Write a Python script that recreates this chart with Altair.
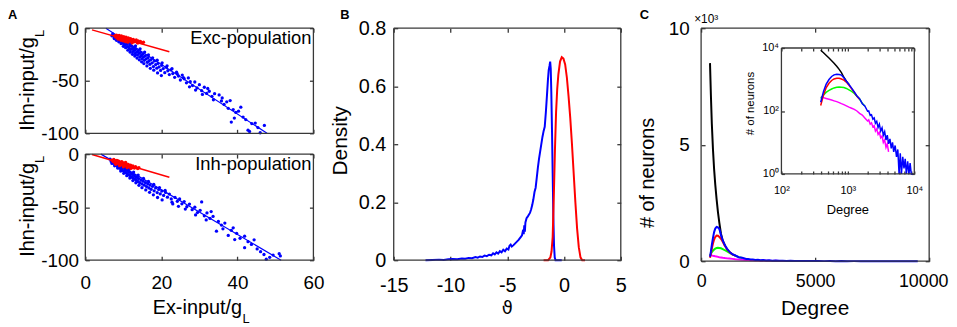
import altair as alt
import pandas as pd

FONT = "Liberation Sans"
BLUE = "#0000ff"; RED = "#ff0000"; GREEN = "#00ff00"; MAGENTA = "#ff00ff"; BLACK = "#000000"
FRAME = "#383838"  # frame / tick colour
T = 4  # inward tick length
LW = 1.3  # frame / tick stroke width

# ---------------- Panel A data ----------------
a_ticks_x = [0, 20, 40, 60]
a_ticks_y = [-100, -50, 0]
a_dom_x = [0, 60]
a_dom_y = [-100, 0]

exc_blue = [
    (7.2, -5.5), (7.5, -7.8), (7.8, -6.9), (8.0, -9.2), (8.3, -8.1), (8.5, -10.4), (8.7, -7.6), (8.9, -11.8), (9.1, -9.5), (9.3, -12.6),
    (9.5, -10.8), (9.7, -13.9), (9.9, -11.6), (10.1, -14.8), (10.3, -12.2), (10.5, -16.1), (10.7, -13.5), (10.9, -15.2), (11.1, -17.6), (11.3, -14.3),
    (11.5, -18.9), (11.7, -16.4), (11.9, -20.2), (12.1, -17.1), (12.3, -19.5), (12.5, -22.3), (12.7, -18.6), (12.9, -21.0), (13.1, -24.1), (13.3, -19.8),
    (13.5, -22.7), (13.7, -25.6), (13.9, -21.4), (14.1, -24.0), (14.3, -27.2), (14.5, -23.1), (14.7, -26.0), (14.9, -28.9), (15.1, -24.8), (15.3, -27.5),
    (15.5, -30.6), (15.8, -26.3), (16.0, -29.2), (16.3, -32.4), (16.5, -28.1), (16.8, -31.0), (17.0, -34.3), (17.3, -29.9), (17.6, -33.0), (17.9, -36.5),
    (18.2, -31.2), (18.5, -34.6), (18.8, -38.1), (19.1, -33.5), (19.4, -36.9), (19.8, -40.2), (20.1, -35.3), (20.5, -38.4), (20.9, -42.3), (21.3, -37.2),
    (21.7, -40.5), (22.1, -44.1), (22.5, -39.6), (23.0, -43.2), (23.5, -46.8), (24.0, -41.9), (24.5, -45.5), (25.0, -49.3), (25.5, -44.6), (26.0, -48.1),
    (26.6, -52.0), (27.1, -47.3), (27.6, -50.9), (28.2, -54.6), (28.8, -51.2), (29.4, -56.8), (30.0, -53.7), (30.6, -59.5), (31.3, -56.2), (31.9, -62.1),
    (32.6, -60.0), (33.3, -64.8), (34.0, -62.3), (35.2, -63.5), (35.8, -69.2), (36.5, -72.5), (37.2, -70.1), (38.1, -68.9), (38.4, -89.3), (38.9, -77.4),
    (39.6, -80.2), (40.3, -79.0), (40.9, -75.2), (41.5, -84.6), (42.2, -86.9), (42.8, -97.0), (43.2, -98.3), (43.8, -90.8), (44.7, -90.3), (45.4, -94.6),
    (46.0, -99.5), (47.1, -92.5),
    (7.0, -7.2), (7.6, -9.9), (8.2, -11.5), (8.8, -13.0), (9.4, -14.6), (10.0, -17.3), (10.6, -18.5), (11.2, -20.9), (11.8, -22.8), (12.4, -24.9),
    (13.0, -26.5), (13.6, -28.4), (14.2, -30.1), (14.8, -32.0), (15.4, -33.7), (16.2, -35.9), (17.1, -38.2), (18.0, -40.0), (19.0, -42.6), (20.0, -45.1),
    (10.4, -9.6), (11.0, -11.8), (12.0, -13.9), (13.2, -16.8), (14.4, -19.6), (15.6, -22.7), (16.6, -25.3), (17.7, -28.2), (18.9, -30.4), (20.2, -33.0),
    (21.5, -35.8), (22.8, -38.5), (24.2, -43.7), (25.8, -47.0), (27.4, -55.8), (29.0, -58.9), (30.8, -63.0), (32.2, -57.4), (33.7, -68.1), (36.0, -66.4),
    (37.6, -76.2), (39.2, -85.5),
]
exc_red = [
    (7.8, -7.2), (8.0, -8.4), (8.2, -6.6), (8.4, -9.1), (8.5, -7.7), (8.7, -8.8), (8.9, -6.9), (9.0, -10.1), (9.2, -8.1), (9.3, -9.4),
    (9.5, -7.4), (9.6, -10.6), (9.8, -8.7), (9.9, -9.9), (10.1, -8.0), (10.2, -11.2), (10.4, -9.3), (10.5, -10.5), (10.7, -8.6), (10.8, -11.6),
    (11.0, -9.8), (11.1, -10.9), (11.3, -9.2), (11.4, -12.0), (11.6, -10.3), (11.7, -11.4), (11.9, -9.9), (12.0, -12.5), (12.2, -10.9), (12.4, -11.9),
    (12.6, -10.6), (12.8, -13.0), (13.0, -11.5), (13.2, -12.4), (13.4, -11.2), (13.6, -13.4), (13.9, -12.1), (14.2, -13.0), (14.5, -12.6), (14.9, -13.8),
    (15.3, -13.4), (9.4, -11.5), (10.0, -12.1), (10.6, -12.8), (11.2, -13.3), (8.6, -10.4), (12.3, -14.0), (9.1, -7.9), (10.3, -9.0), (11.5, -11.1),
    (12.7, -12.2), (13.8, -14.1),
]
exc_blue_fit = [(5.4, 0.0), (47.8, -100.0)]
exc_red_fit = [(1.75, -1.6), (22.1, -22.4)]

inh_blue = [
    (6.5, -4.8), (6.8, -6.9), (7.1, -5.9), (7.3, -8.2), (7.6, -7.1), (7.8, -9.6), (8.0, -8.3), (8.2, -10.8), (8.4, -9.0), (8.6, -12.1),
    (8.8, -10.2), (9.0, -13.3), (9.2, -11.1), (9.4, -14.0), (9.6, -12.4), (9.8, -15.3), (10.0, -13.0), (10.2, -16.2), (10.4, -14.1), (10.6, -17.4),
    (10.8, -15.0), (11.0, -18.3), (11.2, -16.1), (11.4, -19.5), (11.6, -17.0), (11.8, -20.4), (12.0, -18.2), (12.2, -21.6), (12.4, -19.0), (12.6, -22.7),
    (12.8, -20.1), (13.0, -23.5), (13.2, -21.2), (13.4, -24.6), (13.6, -22.0), (13.8, -25.8), (14.0, -23.1), (14.3, -26.9), (14.6, -24.4), (14.9, -28.1),
    (15.2, -25.5), (15.5, -29.3), (15.8, -26.8), (16.1, -30.6), (16.4, -28.0), (16.7, -31.9), (17.0, -29.2), (17.3, -33.1), (17.7, -30.4), (18.1, -34.6),
    (18.5, -31.9), (18.9, -36.2), (19.3, -33.3), (19.7, -37.5), (20.1, -34.8), (20.6, -38.9), (21.1, -36.1), (21.6, -40.6), (22.1, -37.7), (22.6, -42.2),
    (23.0, -47.0), (23.6, -40.8), (24.2, -44.5), (24.8, -42.3), (25.4, -46.9), (26.0, -44.7), (26.7, -49.6), (27.4, -47.1), (28.1, -52.4), (28.8, -50.0),
    (29.5, -55.1), (30.2, -53.0), (30.6, -45.1), (31.3, -58.2), (32.0, -55.4), (32.8, -60.6), (33.6, -58.7), (34.5, -72.6), (35.0, -63.4), (35.8, -66.9),
    (36.7, -65.0), (37.6, -76.6), (38.4, -71.8), (38.9, -69.5), (39.8, -74.7), (40.7, -79.3), (41.9, -77.3), (41.9, -88.2), (42.8, -82.5), (43.7, -85.1),
    (44.4, -80.8), (45.2, -89.4), (46.1, -92.0), (47.0, -94.6), (47.6, -99.0), (48.5, -97.3), (49.4, -95.2), (51.0, -93.8), (51.3, -96.0),
    (7.0, -8.8), (7.7, -11.0), (8.5, -13.2), (9.3, -15.9), (10.1, -18.1), (10.9, -20.3), (11.7, -22.6), (12.5, -24.9), (13.3, -27.0), (14.1, -29.4),
    (14.9, -31.6), (15.9, -33.8), (16.9, -36.0), (17.9, -38.4), (19.0, -40.9), (20.2, -43.2), (9.7, -10.9), (10.5, -12.6), (11.5, -14.3), (12.7, -16.9),
    (13.9, -19.8), (15.3, -22.9), (16.6, -25.8), (18.0, -28.6), (19.5, -31.5), (21.0, -34.2), (22.8, -45.3), (24.5, -49.2), (26.3, -51.8), (29.0, -57.3),
    (31.8, -62.0), (33.1, -54.2), (36.2, -70.4), (39.3, -80.5),
]
inh_red = [
    (7.0, -5.6), (7.3, -6.9), (7.5, -5.0), (7.7, -7.8), (7.9, -6.2), (8.1, -8.5), (8.3, -5.9), (8.5, -7.4), (8.7, -9.2), (8.9, -6.8),
    (9.1, -8.0), (9.3, -9.9), (9.5, -7.5), (9.7, -8.8), (9.9, -10.4), (10.1, -8.2), (10.3, -9.6), (10.5, -11.0), (10.7, -8.9), (10.9, -10.3),
    (11.1, -11.6), (11.3, -9.7), (11.5, -10.9), (11.7, -12.1), (11.9, -10.4), (12.1, -11.5), (12.3, -12.6), (12.5, -11.1), (12.7, -12.2), (12.9, -13.1),
    (13.2, -11.9), (13.5, -12.9), (13.8, -13.6), (14.1, -12.8), (8.0, -9.6), (9.0, -10.9), (10.0, -11.9), (11.0, -12.8), (12.0, -13.5), (8.6, -6.3),
    (9.6, -7.0), (10.6, -7.9),
]
inh_blue_fit = [(4.1, 0.0), (51.5, -100.0)]
inh_red_fit = [(1.75, -0.3), (22.1, -21.8)]

# ---------------- Panel B data ----------------
b_ticks_x = [-15, -10, -5, 0, 5]
b_ticks_y = [0, 0.2, 0.4, 0.6, 0.8]
b_dom_x = [-15, 5]
b_dom_y = [0, 0.8]
b_blue = [
    (-12.2, 0.000), (-11.6, 0.001), (-11.0, 0.002), (-10.6, 0.001), (-10.2, 0.003), (-9.8, 0.004), (-9.4, 0.003), (-9.0, 0.006),
    (-8.7, 0.005), (-8.4, 0.008), (-8.1, 0.007), (-7.8, 0.011), (-7.6, 0.009), (-7.4, 0.013), (-7.2, 0.011), (-7.0, 0.016),
    (-6.8, 0.014), (-6.6, 0.019), (-6.4, 0.017), (-6.25, 0.024), (-6.1, 0.020), (-5.95, 0.027), (-5.8, 0.023), (-5.65, 0.031),
    (-5.5, 0.027), (-5.35, 0.036), (-5.2, 0.031), (-5.05, 0.040), (-4.9, 0.037), (-4.8, 0.050), (-4.7, 0.054), (-4.6, 0.047),
    (-4.45, 0.052), (-4.3, 0.058), (-4.15, 0.064), (-4.0, 0.070), (-3.85, 0.078), (-3.7, 0.086), (-3.6, 0.105), (-3.55, 0.090),
    (-3.5, 0.120), (-3.45, 0.098), (-3.4, 0.130), (-3.3, 0.145), (-3.2, 0.150), (-3.1, 0.157), (-3.0, 0.163), (-2.9, 0.175),
    (-2.8, 0.19), (-2.7, 0.21), (-2.6, 0.235), (-2.5, 0.25), (-2.4, 0.285), (-2.3, 0.32), (-2.2, 0.35), (-2.1, 0.375),
    (-2.0, 0.40), (-1.9, 0.425), (-1.8, 0.445), (-1.7, 0.46), (-1.6, 0.51), (-1.5, 0.57), (-1.42, 0.62), (-1.35, 0.655),
    (-1.28, 0.67), (-1.22, 0.685), (-1.17, 0.66), (-1.12, 0.58), (-1.06, 0.45), (-1.0, 0.30), (-0.94, 0.15), (-0.88, 0.05),
    (-0.82, 0.01), (-0.75, 0.0), (-0.2, 0.0),
]
b_red = [
    (-1.8, 0.0), (-1.4, 0.0), (-1.2, 0.01), (-1.1, 0.03), (-1.0, 0.08), (-0.9, 0.22), (-0.8, 0.38), (-0.7, 0.51), (-0.6, 0.59),
    (-0.5, 0.64), (-0.35, 0.685), (-0.2, 0.70), (-0.05, 0.695), (0.1, 0.675), (0.25, 0.63), (0.4, 0.565), (0.55, 0.49),
    (0.7, 0.40), (0.85, 0.30), (1.0, 0.20), (1.15, 0.11), (1.3, 0.045), (1.45, 0.01), (1.6, 0.0), (1.85, 0.0),
]

# ---------------- Panel C data ----------------
c_ticks_x = [0, 5000, 10000]
c_ticks_y = [0, 5, 10]
c_dom_x = [0, 10000]
c_dom_y = [0, 10]
inset_ticks_x = [100, 200, 300, 400, 500, 600, 700, 800, 900, 1000, 2000, 3000, 4000, 5000, 6000, 7000, 8000, 9000, 10000]
inset_ticks_y = [1, 100, 10000]
inset_dom_x = [100, 10000]
inset_dom_y = [1, 10000]

deg_head = [390, 430, 470, 520, 570, 620, 680, 740, 800, 870, 950, 1040, 1140, 1250, 1370, 1500, 1650, 1800]
deg_tail = [1980, 2060, 2170, 2270, 2380, 2490, 2600, 2720, 2850, 2980, 3120, 3270, 3420, 3580, 3750, 3920, 4100,
            4300, 4500, 4700, 4900, 5150, 5400, 5650, 5900, 6150, 6400, 6700, 7000, 7300, 7600, 7950, 8300, 8650, 9000, 9500]

black_cnt = [8500, 7100, 5900, 4800, 3950, 3300, 2650, 2100, 1650, 1180, 880, 690]
magenta_cnt = [280, 265, 250, 235, 222, 210, 198, 185, 172, 160, 146, 133, 122, 112, 100, 84, 74, 60,
               48, 52, 38, 42, 31, 34, 23, 27, 18, 21, 14, 16, 10, 12, 7, 9, 5]
green_cnt = [250, 320, 390, 450, 500, 540, 565, 575, 570, 555, 520, 470, 420, 360, 295, 240, 175, 142]
red_cnt = [150, 320, 540, 760, 930, 1040, 1100, 1090, 1040, 960, 830, 660, 510, 390, 295, 235]
blue_cnt = [190, 420, 700, 1000, 1250, 1400, 1470, 1450, 1380, 1130, 880, 690, 530, 400, 300, 245, 170, 145,
            98, 100, 72, 76, 55, 60, 41, 47, 30, 38, 23, 29, 17, 22, 12, 17, 9,
            13, 6.5, 10, 5, 8, 3.5, 6, 1.0, 4.5, 1.0, 3.5, 1.5, 3, 1.0, 2.5, 1.0, 2.2, 1.0, 1.0]

deg_all = deg_head + deg_tail
series_c = [
    ("black", BLACK, deg_all[:len(black_cnt)], black_cnt),
    ("magenta", MAGENTA, deg_all[:len(magenta_cnt)], magenta_cnt),
    ("green", GREEN, deg_all[:len(green_cnt)], green_cnt),
    ("red", RED, deg_all[:len(red_cnt)], red_cnt),
    ("blue", BLUE, deg_all[:len(blue_cnt)], blue_cnt),
]

MINUS = "datum.value < 0 ? '-' + format(-datum.value, '~g') : format(datum.value, '~g')"


def axis(orient, values, labels=True, pad=0, size=20, expr=None, tick=T, offset=None, extra=None):
    kw = dict(orient=orient, values=values, tickSize=tick, offset=(-tick if offset is None else offset),
              domain=False, labels=labels, grid=False, title=None,
              tickColor=FRAME, tickWidth=LW, labelFontSize=size, labelColor="#000000",
              labelPadding=pad, labelFlush=False)
    if expr:
        kw["labelExpr"] = expr
    if extra:
        kw.update(extra)
    return alt.Axis(**kw)


def txt(s, x, y, size, align="left", baseline="alphabetic", angle=0, weight="normal", font=FONT):
    return alt.Chart(pd.DataFrame({"t": [s]})).mark_text(
        align=align, baseline=baseline, angle=angle, fontSize=size, fontWeight=weight, font=font, color="#000000"
    ).encode(text="t:N", x=alt.value(x), y=alt.value(y))


def frame(xdom, ydom, xs, ys, xaxis=None, yaxis=None):
    # box edges drawn as two-point segments; the top / right tick axes ride on this layer
    x0, x1 = xdom
    y0, y1 = ydom
    df = pd.DataFrame({"fx": [x0, x1, x1, x1, x1, x0, x0, x0],
                       "fy": [y0, y0, y0, y1, y1, y1, y1, y0],
                       "e": ["b", "b", "r", "r", "t", "t", "l", "l"]})
    return alt.Chart(df).mark_line(color=FRAME, strokeWidth=LW).encode(
        x=alt.X("fx:Q", scale=xs, axis=xaxis), y=alt.Y("fy:Q", scale=ys, axis=yaxis), detail="e:N")


# ---------------- Panel A (two stacked plots in one layered view) ----------------
W_A, H_A = 230, 234


def a_sub(blue, red, bfit, rfit, label, top, bot, is_bottom):
    def sc():
        return (alt.Scale(domain=a_dom_x, nice=False, zero=False),
                alt.Scale(domain=a_dom_y, range=[bot, top], nice=False, zero=False))
    out = []
    xs, ys = sc()
    out.append(alt.Chart(pd.DataFrame(blue, columns=["x", "y"])).mark_circle(size=11, color=BLUE, opacity=1).encode(
        x=alt.X("x:Q", scale=xs, axis=axis("bottom", a_ticks_x, labels=is_bottom, pad=14, size=19, offset=-(H_A - bot) - T)),
        y=alt.Y("y:Q", scale=ys, axis=axis("left", a_ticks_y, pad=7, size=19, expr=MINUS))))
    xs, ys = sc()
    out.append(alt.Chart(pd.DataFrame(bfit, columns=["x", "y"])).mark_line(color=BLUE, strokeWidth=1.2).encode(
        x=alt.X("x:Q", scale=xs, axis=None), y=alt.Y("y:Q", scale=ys, axis=None)))
    xs, ys = sc()
    out.append(alt.Chart(pd.DataFrame(red, columns=["x", "y"])).mark_circle(size=11, color=RED, opacity=1).encode(
        x=alt.X("x:Q", scale=xs, axis=None), y=alt.Y("y:Q", scale=ys, axis=None)))
    xs, ys = sc()
    out.append(alt.Chart(pd.DataFrame(rfit, columns=["x", "y"])).mark_line(color=RED, strokeWidth=1.5).encode(
        x=alt.X("x:Q", scale=xs, axis=None), y=alt.Y("y:Q", scale=ys, axis=None)))
    xs, ys = sc()
    out.append(frame(a_dom_x, a_dom_y, xs, ys,
                     axis("top", a_ticks_x, labels=False, offset=-(top + T)),
                     axis("right", a_ticks_y, labels=False)))
    out += [txt(label, 228, top + 1, 18.5, align="right", baseline="top"),
            txt("Ihn-input/g", -51.5, top + 9, 20, align="right", angle=270),
            txt("L", -42, top + 9, 13, align="left", angle=270)]
    if is_bottom:
        out += [txt("Ex-input/g", 158, bot + 54, 20, align="right"),
                txt("L", 158.5, bot + 63, 13, align="left")]
    return out


a_all = (a_sub(exc_blue, exc_red, exc_blue_fit, exc_red_fit, "Exc-population", 0, 106, False)
         + a_sub(inh_blue, inh_red, inh_blue_fit, inh_red_fit, "Inh-population", 127, 234, True)
         + [txt("A", -78, -19, 13, baseline="top", weight="bold")])
panel_A = alt.layer(*a_all).resolve_scale(x="independent", y="independent").properties(width=W_A, height=H_A)

# ---------------- Panel B ----------------
W_B, H_B = 229, 234


def b_sc():
    return (alt.Scale(domain=b_dom_x, nice=False, zero=False), alt.Scale(domain=b_dom_y, nice=False, zero=False))


b_layers = []
xs, ys = b_sc()
b_layers.append(alt.Chart(pd.DataFrame(b_blue, columns=["theta", "density"])).mark_line(color=BLUE, strokeWidth=2).encode(
    x=alt.X("theta:Q", scale=xs, axis=axis("bottom", b_ticks_x, pad=16, size=20, expr=MINUS)),
    y=alt.Y("density:Q", scale=ys, axis=axis("left", b_ticks_y, pad=8, size=20, expr=MINUS))))
xs, ys = b_sc()
b_layers.append(alt.Chart(pd.DataFrame(b_red, columns=["theta", "density"])).mark_line(color=RED, strokeWidth=2).encode(
    x=alt.X("theta:Q", scale=xs, axis=None), y=alt.Y("density:Q", scale=ys, axis=None)))
xs, ys = b_sc()
b_layers.append(frame(b_dom_x, b_dom_y, xs, ys,
                      axis("top", b_ticks_x, labels=False), axis("right", b_ticks_y, labels=False)))
b_layers += [
    txt("B", -54, -19, 13, baseline="top", weight="bold"),
    txt("Density", -47, 113.5, 21, align="center", angle=270),
    txt("\u03d1", 114.5, H_B + 54, 18, align="center", font="DejaVu Sans"),
]
panel_B = alt.layer(*b_layers).resolve_scale(x="independent", y="independent").properties(width=W_B, height=H_B)

# ---------------- Panel C ----------------
W_C, H_C = 230, 235
IX0, IX1, IY0, IY1 = 81, 215, 147, 20  # inset pixel range inside panel C


def c_scales():
    return (alt.Scale(domain=c_dom_x, nice=False, zero=False),
            alt.Scale(domain=c_dom_y, nice=False, zero=False))


def i_scales():
    return (alt.Scale(type="log", domain=inset_dom_x, range=[IX0, IX1], nice=False),
            alt.Scale(type="log", domain=inset_dom_y, range=[IY0, IY1], nice=False))


c_layers = []
for i, (name, col, degs, cnts) in enumerate(series_c):
    xs, ys = c_scales()
    df = pd.DataFrame({"deg": degs, "cnt": cnts})
    if i == 0:
        xa = axis("bottom", c_ticks_x, pad=12, size=18, expr="format(datum.value, 'd')",
                  extra={"labelOffset": {"condition": {"test": "datum.value == 10000", "value": -6}, "value": 0}})
        ya = axis("left", c_ticks_y, pad=12, size=19, expr=MINUS)
    else:
        xa, ya = None, None
    c_layers.append(alt.Chart(df).transform_calculate(k="datum.cnt / 1000").mark_line(color=col, strokeWidth=2).encode(
        x=alt.X("deg:Q", scale=xs, axis=xa), y=alt.Y("k:Q", scale=ys, axis=ya)))

xs, ys = c_scales()
c_layers.append(frame(c_dom_x, c_dom_y, xs, ys,
                      axis("top", c_ticks_x, labels=False), axis("right", c_ticks_y, labels=False)))

IX_EXPR = "datum.value == 100 ? '10\u00b2' : datum.value == 1000 ? '10\u00b3' : datum.value == 10000 ? '10\u2074' : ''"
IY_EXPR = "datum.value == 1 ? '10\u2070' : datum.value == 100 ? '10\u00b2' : '10\u2074'"
for i, (name, col, degs, cnts) in enumerate(series_c):
    xs, ys = i_scales()
    df = pd.DataFrame({"deg": degs, "cnt": cnts})
    if i == 0:
        xa = axis("bottom", inset_ticks_x, pad=11, size=11, expr=IX_EXPR, tick=3, offset=-(H_C - IY0) - 3)
        ya = axis("left", inset_ticks_y, pad=3, size=11, expr=IY_EXPR, tick=3, offset=-IX0 - 3)
    else:
        xa, ya = None, None
    c_layers.append(alt.Chart(df).mark_line(color=col, strokeWidth=1.5).encode(
        x=alt.X("deg:Q", scale=xs, axis=xa), y=alt.Y("cnt:Q", scale=ys, axis=ya)))

xs, ys = i_scales()
c_layers.append(frame(inset_dom_x, inset_dom_y, xs, ys,
                      axis("top", inset_ticks_x, labels=False, tick=3, offset=-(IY1 + 3)),
                      axis("right", inset_ticks_y, labels=False, tick=3, offset=-(W_C - IX1) - 3)))

c_layers += [
    txt("C", -62, -19, 13, baseline="top", weight="bold"),
    txt("\u00d710\u00b3", -7, -5, 12),
    txt("# of neurons", -47.7, 146, 20, align="center", angle=270),
    txt("Degree", 115, H_C + 54, 21, align="center"),
    txt("Degree", 148, 187, 13, align="center"),
    txt("# of neurons", 53.3, 76, 11.5, align="center", angle=270),
]
panel_C = alt.layer(*c_layers).resolve_scale(x="independent", y="independent").properties(width=W_C, height=H_C)

chart = alt.hconcat(panel_A, panel_B, panel_C, spacing=81, bounds="flush").properties(
    padding=0
).configure(font=FONT, view=alt.ViewConfig(strokeWidth=0))

chart.save("out.html", embed_options={"renderer": "svg", "actions": False})
